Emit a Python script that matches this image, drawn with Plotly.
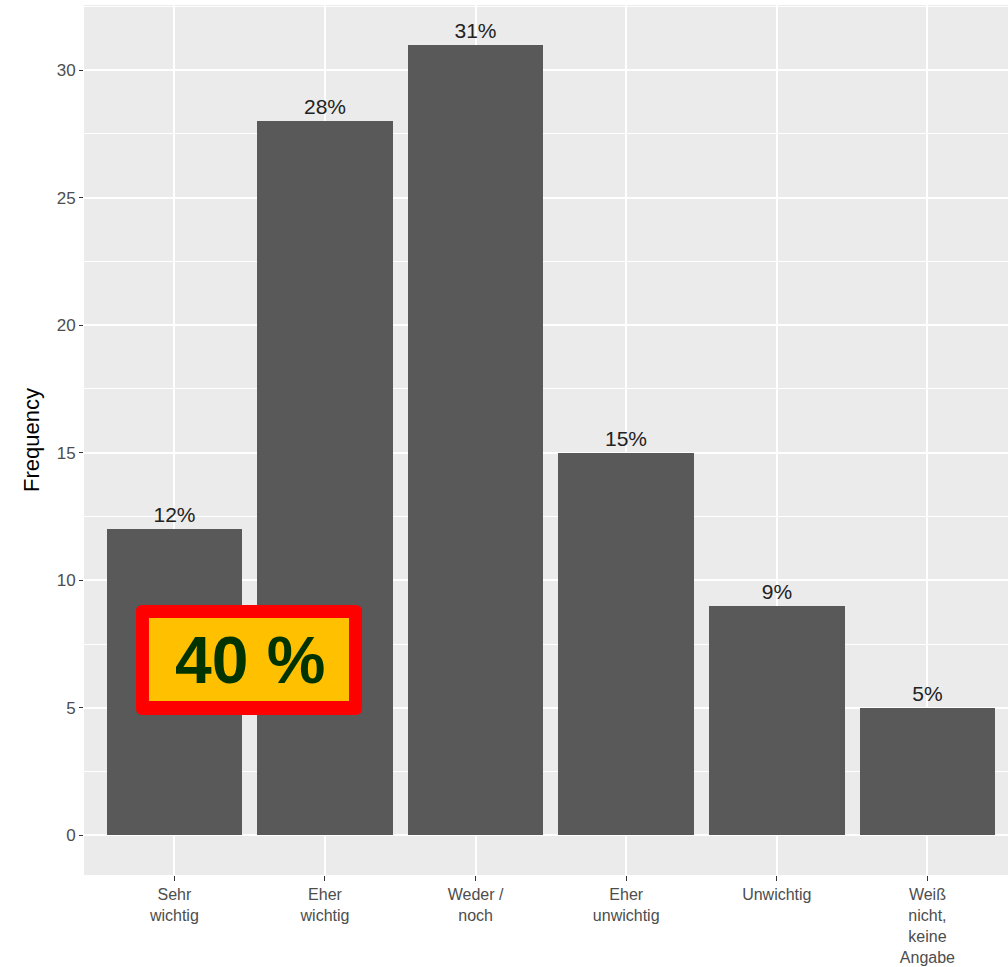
import plotly.graph_objects as go

# Survey answer categories and their counts
categories = ["Sehr<br>wichtig", "Eher<br>wichtig", "Weder /<br>noch",
              "Eher<br>unwichtig", "Unwichtig", "Weiß<br>nicht,<br>keine<br>Angabe"]
counts = [12, 28, 31, 15, 9, 5]
y_ticks = [0, 5, 10, 15, 20, 25, 30]
highlight_text = "40 %"

total = sum(counts)
pct_labels = [f"{round(c / total * 100)}%" for c in counts]
xpos = list(range(1, len(categories) + 1))

fig = go.Figure()
fig.add_trace(go.Bar(
    x=xpos, y=counts, width=0.9,
    marker=dict(color="#595959", line=dict(width=0)),
    text=pct_labels, textposition="outside",
    textfont=dict(family="Liberation Sans, Arial", size=21, color="#222222"),
    cliponaxis=False, hoverinfo="skip",
))

# Highlight box drawn over the first two bars (rounded red frame, yellow fill)
def rounded_rect(x0, y0, x1, y1, rx, ry):
    return (f"M {x0+rx},{y0} L {x1-rx},{y0} Q {x1},{y0} {x1},{y0+ry} "
            f"L {x1},{y1-ry} Q {x1},{y1} {x1-rx},{y1} L {x0+rx},{y1} "
            f"Q {x0},{y1} {x0},{y1-ry} L {x0},{y0+ry} Q {x0},{y0} {x0+rx},{y0} Z")

fig.add_shape(type="path", xref="paper", yref="paper", layer="above",
              path=rounded_rect(0.0563, 0.1839, 0.3009, 0.3103, 0.007, 0.0075),
              fillcolor="#FF0000", line=dict(width=0))
fig.add_shape(type="rect", xref="paper", yref="paper", layer="above",
              x0=0.0703, x1=0.2868, y0=0.200, y1=0.2954,
              fillcolor="#FFC000", line=dict(width=0))
fig.add_annotation(xref="paper", yref="paper", x=0.1797, y=0.2471,
                   text=f"<b>{highlight_text}</b>", showarrow=False,
                   font=dict(family="Liberation Sans, Arial", size=66, color="#003300"),
                   xanchor="center", yanchor="middle")

fig.update_layout(
    width=1008, height=967,
    margin=dict(l=84, r=0, t=5, b=92),
    paper_bgcolor="white", plot_bgcolor="#EBEBEB",
    showlegend=False, bargap=0,
    font=dict(family="Liberation Sans, Arial", color="#4D4D4D"),
)
fig.update_xaxes(
    range=[0.4, 6.535], tickmode="array", tickvals=xpos, ticktext=categories,
    showgrid=True, gridcolor="white", gridwidth=1.5, zeroline=False,
    ticks="outside", ticklen=5, tickcolor="#333333", tickwidth=1,
    tickfont=dict(size=16, color="#4D4D4D"), showline=False, fixedrange=True,
)
fig.update_yaxes(
    range=[-1.55, 32.55], tickmode="array", tickvals=y_ticks,
    showgrid=True, gridcolor="white", gridwidth=1.5, zeroline=False,
    minor=dict(tickmode="array", tickvals=[2.5, 7.5, 12.5, 17.5, 22.5, 27.5, 32.5],
               showgrid=True, gridcolor="white", gridwidth=0.7, ticks=""),
    ticks="outside", ticklen=4, tickcolor="#333333", tickwidth=1,
    tickfont=dict(size=17, color="#4D4D4D"),
    title=dict(text="Frequency", font=dict(size=22, color="#000000"), standoff=10),
    showline=False, fixedrange=True,
)

fig.write_html("out.html")
